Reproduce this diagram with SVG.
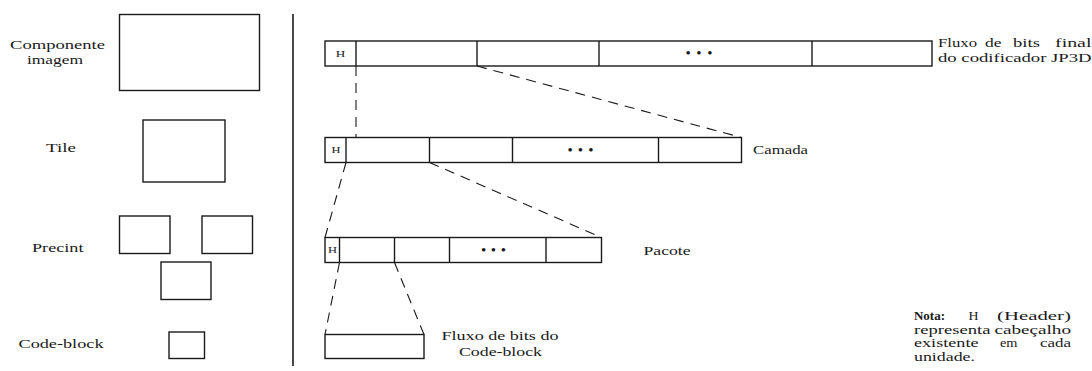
<svg xmlns="http://www.w3.org/2000/svg" width="1092" height="371" viewBox="0 0 1092 371">
  <style>
    .box { fill: #fff; stroke: #1a1a1a; stroke-width: 1.4; }
    .bar { fill: #fff; stroke: #1a1a1a; stroke-width: 1.4; }
    .div { stroke: #1a1a1a; stroke-width: 1.4; }
    .dash { fill: none; stroke: #1a1a1a; stroke-width: 1.1; stroke-dasharray: 10 7; }
    .sep { stroke: #1a1a1a; stroke-width: 1.6; }
    .h { text-anchor: middle; }
    .dots { text-anchor: middle; }
  </style>

  <!-- all labels: Times-metric serif, stretched to the widths of the layout -->
  <g font-family="Liberation Serif, serif" font-size="12.5" fill="#1a1a1a">

  <!-- hierarchy column -->
  <g id="componente">
    <rect class="box" x="119.5" y="14.5" width="140" height="76"/>
    <text x="10" y="49" textLength="95" lengthAdjust="spacingAndGlyphs">Componente</text>
    <text x="27" y="64" textLength="56" lengthAdjust="spacingAndGlyphs">imagem</text>
  </g>
  <g id="tile">
    <rect class="box" x="143" y="120" width="82" height="62"/>
    <text x="46" y="152" textLength="30" lengthAdjust="spacingAndGlyphs">Tile</text>
  </g>
  <g id="precint">
    <rect class="box" x="119.5" y="216" width="50.5" height="37.5"/>
    <rect class="box" x="202" y="216" width="50.5" height="37.5"/>
    <rect class="box" x="161" y="262" width="50" height="37.5"/>
    <text x="32" y="251.5" textLength="51.5" lengthAdjust="spacingAndGlyphs">Precint</text>
  </g>
  <g id="codeblock">
    <rect class="box" x="169" y="332" width="35.5" height="26.5"/>
    <text x="18.5" y="348" textLength="85" lengthAdjust="spacingAndGlyphs">Code-block</text>
  </g>

  <line id="separator" class="sep" x1="293" y1="14" x2="293" y2="366"/>

  <!-- final codestream -->
  <g id="fluxo-final">
    <rect class="bar" x="325" y="41" width="607" height="25"/>
    <line class="div" x1="356" y1="41" x2="356" y2="66"/>
    <line class="div" x1="477" y1="41" x2="477" y2="66"/>
    <line class="div" x1="599" y1="41" x2="599" y2="66"/>
    <line class="div" x1="812" y1="41" x2="812" y2="66"/>
    <text class="h" x="340.5" y="56.5" font-size="8.5" textLength="9.5" lengthAdjust="spacingAndGlyphs">H</text>
    <text class="dots" x="699" y="58" font-size="15" textLength="27" lengthAdjust="spacing">• • •</text>
    <text x="938" y="46.5" textLength="39" lengthAdjust="spacingAndGlyphs">Fluxo</text>
    <text x="985" y="46.5" textLength="16.5" lengthAdjust="spacingAndGlyphs">de</text>
    <text x="1013" y="46.5" textLength="27" lengthAdjust="spacingAndGlyphs">bits</text>
    <text x="1055" y="46.5" textLength="36.5" lengthAdjust="spacingAndGlyphs">final</text>
    <text x="938" y="61.5" textLength="153.5" lengthAdjust="spacingAndGlyphs">do codificador JP3D</text>
  </g>

  <!-- layer -->
  <g id="camada">
    <rect class="bar" x="325" y="137.5" width="416.5" height="25"/>
    <line class="div" x1="346" y1="137.5" x2="346" y2="162.5"/>
    <line class="div" x1="429.5" y1="137.5" x2="429.5" y2="162.5"/>
    <line class="div" x1="512.5" y1="137.5" x2="512.5" y2="162.5"/>
    <line class="div" x1="658.5" y1="137.5" x2="658.5" y2="162.5"/>
    <text class="h" x="336" y="153" font-size="8.5" textLength="9" lengthAdjust="spacingAndGlyphs">H</text>
    <text class="dots" x="580.5" y="154.5" font-size="15" textLength="26" lengthAdjust="spacing">• • •</text>
    <text x="753" y="153.5" textLength="55" lengthAdjust="spacingAndGlyphs">Camada</text>
  </g>

  <!-- packet -->
  <g id="pacote">
    <rect class="bar" x="325" y="237.5" width="276.5" height="25"/>
    <line class="div" x1="339.5" y1="237.5" x2="339.5" y2="262.5"/>
    <line class="div" x1="394.5" y1="237.5" x2="394.5" y2="262.5"/>
    <line class="div" x1="449.5" y1="237.5" x2="449.5" y2="262.5"/>
    <line class="div" x1="546" y1="237.5" x2="546" y2="262.5"/>
    <text class="h" x="332.5" y="253" font-size="8.5" textLength="9" lengthAdjust="spacingAndGlyphs">H</text>
    <text class="dots" x="493.5" y="254.5" font-size="15" textLength="25" lengthAdjust="spacing">• • •</text>
    <text x="643.5" y="255" textLength="47" lengthAdjust="spacingAndGlyphs">Pacote</text>
  </g>

  <!-- code-block stream -->
  <g id="fluxo-codeblock">
    <rect class="bar" x="325" y="334.5" width="99" height="24"/>
    <text x="441.5" y="340" textLength="117" lengthAdjust="spacingAndGlyphs">Fluxo de bits do</text>
    <text x="459" y="355.5" textLength="83" lengthAdjust="spacingAndGlyphs">Code-block</text>
  </g>

  <!-- note -->
  <g id="nota">
    <text x="914" y="320" font-weight="bold" textLength="31" lengthAdjust="spacingAndGlyphs">Nota:</text>
    <text x="968.5" y="320" textLength="10" lengthAdjust="spacingAndGlyphs">H</text>
    <text x="997" y="320" textLength="74" lengthAdjust="spacingAndGlyphs">(Header)</text>
    <text x="914" y="333.5" textLength="76.5" lengthAdjust="spacingAndGlyphs">representa</text>
    <text x="994.5" y="333.5" textLength="76.5" lengthAdjust="spacingAndGlyphs">cabeçalho</text>
    <text x="914" y="347" textLength="64.5" lengthAdjust="spacingAndGlyphs">existente</text>
    <text x="1000" y="347" textLength="17.5" lengthAdjust="spacingAndGlyphs">em</text>
    <text x="1040" y="347" textLength="31" lengthAdjust="spacingAndGlyphs">cada</text>
    <text x="914" y="360.5" textLength="61" lengthAdjust="spacingAndGlyphs">unidade.</text>
  </g>
  </g>

  <!-- expansion guides -->
  <g id="connectors">
    <line class="dash" x1="356" y1="66" x2="356" y2="137.5"/>
    <line class="dash" x1="477" y1="66" x2="741.5" y2="137.5"/>
    <line class="dash" x1="346" y1="162.5" x2="325" y2="237.5"/>
    <line class="dash" x1="429.5" y1="162.5" x2="601.5" y2="237.5"/>
    <line class="dash" x1="339.5" y1="262.5" x2="325" y2="334.5"/>
    <line class="dash" x1="394.5" y1="262.5" x2="424" y2="334.5"/>
  </g>
</svg>
